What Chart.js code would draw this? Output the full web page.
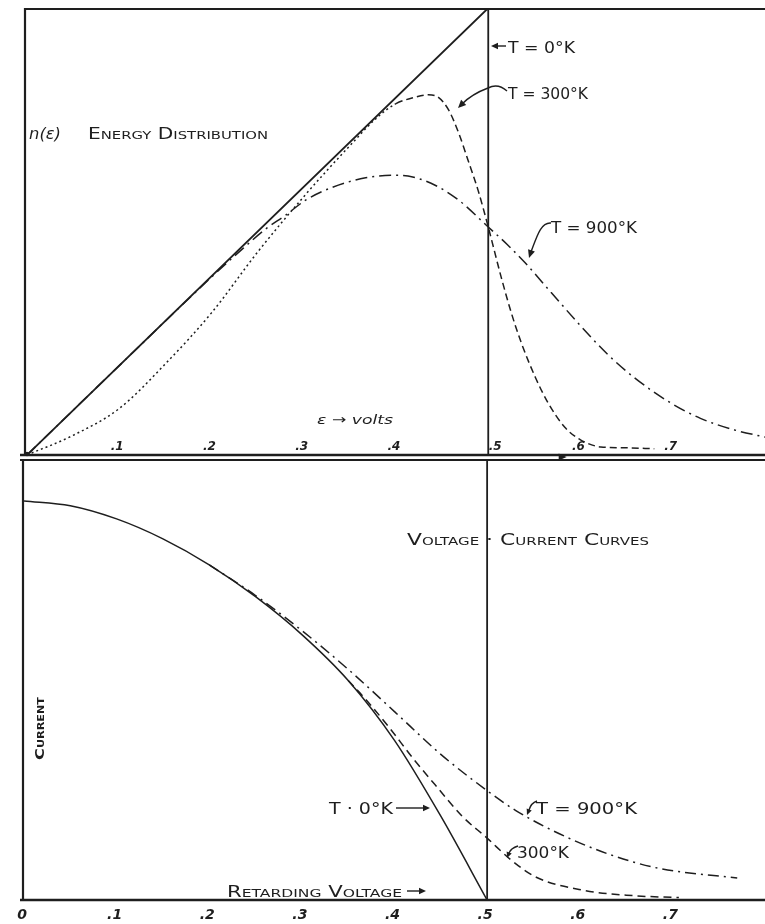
<!DOCTYPE html>
<html>
<head>
<meta charset="utf-8">
<script src="https://cdn.jsdelivr.net/npm/chart.js@4.4.1/dist/chart.umd.min.js"></script>
<style>
  html, body { margin: 0; padding: 0; background: #fff; }
  #wrap { position: relative; width: 765px; height: 924px; }
  #wrap canvas { position: absolute; left: 0; top: 0; }
</style>
</head>
<body>
<div id="wrap">
  <canvas id="distChart" width="765" height="924"></canvas>
  <canvas id="curveChart" width="765" height="924"></canvas>
</div>
<script>
// Distribution d'énergie n(ε) : T = 0°K, 300°K, 900°K
var energyT0 = [0, 0.5, 0.5];
var countT0 = [0, 5, 0];

var energyT300 = [0, 0.05, 0.10, 0.15, 0.20, 0.25, 0.30, 0.35, 0.38, 0.40, 0.42, 0.435, 0.446, 0.457,
    0.468, 0.478, 0.489, 0.5, 0.514, 0.525, 0.536, 0.551, 0.565, 0.583, 0.60, 0.622, 0.65, 0.68];
var countT300 = [0, 0.22, 0.52, 1.02, 1.59, 2.27, 2.89, 3.46, 3.78, 3.93, 4.0, 4.03, 4.0, 3.86,
    3.6, 3.3, 2.96, 2.55, 1.99, 1.59, 1.25, 0.87, 0.58, 0.31, 0.17, 0.09, 0.08, 0.07];

var energyT900 = [0, 0.1, 0.2, 0.233, 0.259, 0.28, 0.302, 0.33, 0.367, 0.40, 0.413, 0.438, 0.468, 0.5,
    0.52, 0.54, 0.568, 0.597, 0.63, 0.659, 0.695, 0.73, 0.767, 0.8];
var countT900 = [0, 1.0, 1.99, 2.3, 2.53, 2.68, 2.85, 2.99, 3.10, 3.13, 3.12, 3.04, 2.85, 2.55,
    2.36, 2.15, 1.82, 1.48, 1.12, 0.86, 0.6, 0.41, 0.28, 0.2];

// Courbes tension-courant (tension retardatrice en volts)
var voltT0 = [0, 0.05, 0.10, 0.15, 0.20, 0.25, 0.30, 0.35, 0.40, 0.45, 0.5];
var currentT0 = [1.0, 0.988, 0.955, 0.905, 0.84, 0.76, 0.665, 0.55, 0.40, 0.21, 0];

var voltT300 = [0.35, 0.37, 0.395, 0.42, 0.447, 0.473, 0.5, 0.526, 0.553, 0.605, 0.657, 0.707];
var currentT300 = [0.55, 0.5, 0.43, 0.355, 0.28, 0.21, 0.155, 0.1, 0.057, 0.024, 0.011, 0.006];

var voltT900 = [0.2, 0.25, 0.3, 0.35, 0.4, 0.45, 0.5, 0.531, 0.578, 0.63, 0.684, 0.77];
var currentT900 = [0.84, 0.763, 0.675, 0.578, 0.472, 0.365, 0.274, 0.224, 0.166, 0.116, 0.08, 0.055];

var fermiLevel = 0.5;
var topTickValues = [0.1, 0.2, 0.3, 0.4, 0.5, 0.6, 0.7];
var topTickLabels = ['.1', '.2', '.3', '.4', '.5', '.6', '.7'];
var bottomTickValues = [0, 0.1, 0.2, 0.3, 0.4, 0.5, 0.6, 0.7];
var bottomTickLabels = ['0', '.1', '.2', '.3', '.4', '.5', '.6', '.7'];

var INK = '#1e1e1e';
var FONT = '"DejaVu Sans", sans-serif';

function toPoints(xs, ys) {
    return xs.map(function(x, i) { return { x: x, y: ys[i] }; });
}

// texte étiré à une largeur donnée (lettrage à la main)
function fitText(ctx, text, x, y, width, font) {
    ctx.save();
    ctx.font = font;
    ctx.fillStyle = INK;
    ctx.textAlign = 'left';
    ctx.textBaseline = 'alphabetic';
    var w = ctx.measureText(text).width;
    ctx.translate(x, y);
    ctx.scale(width / w, 1);
    ctx.fillText(text, 0, 0);
    ctx.restore();
}

function arrowHead(ctx, x, y, angle, size) {
    ctx.save();
    ctx.translate(x, y);
    ctx.rotate(angle);
    ctx.beginPath();
    ctx.moveTo(0, 0);
    ctx.lineTo(-size, -size * 0.45);
    ctx.lineTo(-size, size * 0.45);
    ctx.closePath();
    ctx.fillStyle = INK;
    ctx.fill();
    ctx.restore();
}

function line(ctx, x1, y1, x2, y2, w) {
    ctx.beginPath();
    ctx.lineWidth = w;
    ctx.moveTo(x1, y1);
    ctx.lineTo(x2, y2);
    ctx.stroke();
}

var baseOptions = function(ymax, padding) {
    return {
        responsive: false,
        animation: false,
        layout: { padding: padding },
        plugins: { legend: { display: false }, tooltip: { enabled: false } },
        elements: { point: { radius: 0 } },
        scales: {
            x: { type: 'linear', min: 0, max: 0.8, display: false },
            y: { type: 'linear', min: 0, max: ymax, display: false }
        }
    };
};

var distFrame = {
    id: 'distFrame',
    afterDatasetsDraw: function(chart) {
        var ctx = chart.ctx;
        var area = chart.chartArea;
        var xs = chart.scales.x;
        ctx.save();
        ctx.strokeStyle = INK;
        ctx.lineCap = 'butt';
        line(ctx, area.left - 2, area.top + 1, 765, area.top + 1, 2.2);
        line(ctx, area.left - 2, area.top, area.left - 2, area.bottom, 2.2);
        line(ctx, 20, area.bottom, 765, area.bottom, 2.4);
        line(ctx, 20, area.bottom + 5, 765, area.bottom + 5, 1.8);
        ctx.fillStyle = INK;
        ctx.beginPath();
        ctx.arc(area.left, area.bottom - 1, 2.2, 0, Math.PI * 2);
        ctx.fill();
        arrowHead(ctx, xs.getPixelForValue(0.585), area.bottom + 2, 0, 8);

        // graduations au-dessus de l'axe, .5 décalé hors de la verticale
        ctx.font = 'italic bold 12px ' + FONT;
        ctx.textAlign = 'center';
        topTickLabels.forEach(function(t, i) {
            var v = topTickValues[i];
            var dx = v === fermiLevel ? 7 : -2;
            ctx.fillText(t, xs.getPixelForValue(v) + dx, area.bottom - 5);
        });

        fitText(ctx, 'n(ε)', 29, 139, 32, 'italic 16px ' + FONT);
        fitText(ctx, 'Energy Distribution', 88, 139, 180, 'small-caps 15px ' + FONT);
        fitText(ctx, 'ε → volts', 317, 424, 76, 'italic 13px ' + FONT);
        fitText(ctx, 'T = 0°K', 508, 53, 67, '15px ' + FONT);
        fitText(ctx, 'T = 300°K', 508, 99, 80, '15px ' + FONT);
        fitText(ctx, 'T = 900°K', 551, 233, 86, '15px ' + FONT);

        ctx.lineWidth = 1.4;
        line(ctx, 506, 46, 494, 46, 1.4);
        arrowHead(ctx, 491, 46, Math.PI, 7);

        ctx.beginPath();
        ctx.moveTo(507, 91);
        ctx.quadraticCurveTo(498, 83, 488, 88);
        ctx.quadraticCurveTo(472, 94, 462, 104);
        ctx.stroke();
        arrowHead(ctx, 458, 108, Math.PI * 0.75, 8);

        ctx.beginPath();
        ctx.moveTo(551, 223);
        ctx.bezierCurveTo(541, 222, 537, 236, 531, 252);
        ctx.stroke();
        arrowHead(ctx, 529, 258, Math.PI * 0.6, 8);
        ctx.restore();
    }
};

var curveFrame = {
    id: 'curveFrame',
    afterDatasetsDraw: function(chart) {
        var ctx = chart.ctx;
        var area = chart.chartArea;
        var xs = chart.scales.x;
        ctx.save();
        ctx.strokeStyle = INK;
        line(ctx, area.left - 1, area.top, area.left - 1, area.bottom, 2.2);
        line(ctx, 20, area.bottom, 765, area.bottom, 2.4);

        ctx.fillStyle = INK;
        ctx.font = 'italic bold 14px ' + FONT;
        ctx.textAlign = 'center';
        bottomTickLabels.forEach(function(t, i) {
            ctx.fillText(t, xs.getPixelForValue(bottomTickValues[i]) - 2, area.bottom + 19);
        });

        fitText(ctx, 'Voltage · Current Curves', 407, 545, 242, 'small-caps 16px ' + FONT);
        fitText(ctx, 'T · 0°K', 329, 814, 64, '15px ' + FONT);
        fitText(ctx, 'T = 900°K', 536, 814, 101, '15px ' + FONT);
        fitText(ctx, '300°K', 517, 858, 52, '15px ' + FONT);
        fitText(ctx, 'Retarding Voltage', 227, 897, 175, 'small-caps 15px ' + FONT);

        ctx.save();
        ctx.translate(44, 728);
        ctx.rotate(-Math.PI / 2);
        fitText(ctx, 'Current', -32, 0, 63, 'small-caps bold 13px ' + FONT);
        ctx.restore();

        line(ctx, 396, 808, 424, 808, 1.4);
        arrowHead(ctx, 430, 808, 0, 7);
        line(ctx, 407, 891, 420, 891, 1.4);
        arrowHead(ctx, 426, 891, 0, 7);

        ctx.lineWidth = 1.4;
        ctx.beginPath();
        ctx.moveTo(537, 801);
        ctx.quadraticCurveTo(531, 803, 529, 810);
        ctx.stroke();
        arrowHead(ctx, 527, 815, Math.PI * 0.62, 6);

        ctx.beginPath();
        ctx.moveTo(518, 846);
        ctx.quadraticCurveTo(511, 848, 509, 853);
        ctx.stroke();
        arrowHead(ctx, 507, 858, Math.PI * 0.62, 6);
        ctx.restore();
    }
};

new Chart(document.getElementById('distChart').getContext('2d'), {
    type: 'line',
    data: {
        datasets: [
            {
                label: 'T = 0°K',
                data: toPoints(energyT0, countT0),
                borderColor: INK,
                borderWidth: 1.8,
                tension: 0
            },
            {
                label: 'T = 300°K',
                data: toPoints(energyT300, countT300),
                borderColor: INK,
                borderWidth: 1.5,
                cubicInterpolationMode: 'monotone',
                segment: {
                    borderDash: function(c) { return c.p0.parsed.x < 0.40 ? [2, 3] : [7, 4]; }
                }
            },
            {
                label: 'T = 900°K',
                data: toPoints(energyT900, countT900),
                borderColor: INK,
                borderWidth: 1.5,
                borderDash: [12, 5, 2, 5],
                cubicInterpolationMode: 'monotone'
            }
        ]
    },
    options: baseOptions(5, { top: 8, left: 27, right: 0, bottom: 924 - 455 }),
    plugins: [distFrame]
});

new Chart(document.getElementById('curveChart').getContext('2d'), {
    type: 'line',
    data: {
        datasets: [
            {
                label: 'niveau de Fermi',
                data: [{ x: fermiLevel, y: 0 }, { x: fermiLevel, y: 1.1 }],
                borderColor: INK,
                borderWidth: 1.8
            },
            {
                label: 'T = 0°K',
                data: toPoints(voltT0, currentT0),
                borderColor: INK,
                borderWidth: 1.5,
                cubicInterpolationMode: 'monotone'
            },
            {
                label: 'T = 300°K',
                data: toPoints(voltT300, currentT300),
                borderColor: INK,
                borderWidth: 1.5,
                borderDash: [8, 5],
                cubicInterpolationMode: 'monotone'
            },
            {
                label: 'T = 900°K',
                data: toPoints(voltT900, currentT900),
                borderColor: INK,
                borderWidth: 1.5,
                borderDash: [11, 5, 2, 5],
                cubicInterpolationMode: 'monotone'
            }
        ]
    },
    options: baseOptions(1.1, { top: 461, left: 24, right: 0, bottom: 24 }),
    plugins: [curveFrame]
});
</script>
</body>
</html>
